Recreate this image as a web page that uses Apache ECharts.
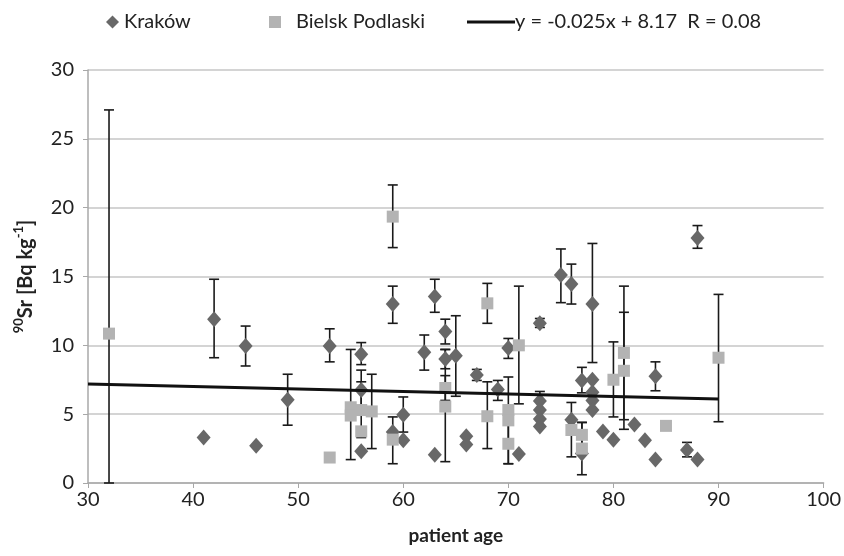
<!DOCTYPE html>
<html>
<head>
<meta charset="utf-8">
<script src="https://cdn.jsdelivr.net/npm/echarts@6/dist/echarts.min.js"></script>
<style>
  html, body { margin: 0; padding: 0; background: #fff; }
  #main { width: 844px; height: 556px; }
</style>
</head>
<body>
<div id="main"></div>
<script>
// Kraków: wiek, 90Sr, dolny i górny koniec słupka błędu (null = brak)
const krakowAge  = [41, 42, 45, 46, 49, 53, 56, 56, 56, 59, 59, 60, 60, 62, 63, 63, 64, 64, 65, 66, 66, 67, 69, 70, 71, 73, 73, 73, 73, 73, 75, 76, 76, 77, 77, 78, 78, 78, 78, 78, 79, 80, 82, 83, 84, 84, 87, 88, 88]
const krakowSr   = [3.3, 11.9, 9.95, 2.7, 6.05, 9.95, 9.35, 6.75, 2.3, 13.0, 3.7, 4.95, 3.1, 9.5, 13.55, 2.05, 11.0, 9.0, 9.25, 3.4, 2.8, 7.85, 6.8, 9.8, 2.1, 11.6, 5.95, 5.3, 4.65, 4.1, 15.1, 14.45, 4.6, 7.45, 2.15, 13.0, 7.5, 6.6, 6.0, 5.3, 3.75, 3.15, 4.25, 3.1, 7.75, 1.7, 2.4, 17.8, 1.7]
const krakowLow  = [null, 9.1, 8.5, null, 4.2, 8.8, 8.6, 5.3, null, 11.6, null, 3.7, null, 8.2, 12.4, null, 10.1, 8.3, 6.3, null, null, 7.45, 6.0, 9.05, null, 11.3, 5.3, null, null, null, 13.1, 13.0, null, 6.55, null, 8.75, null, null, null, null, null, null, null, null, 6.7, null, 1.9, 17.05, null]
const krakowHigh = [null, 14.8, 11.4, null, 7.9, 11.2, 10.2, 8.2, null, 14.3, null, 6.25, null, 10.75, 14.8, null, 11.9, 9.7, 12.15, null, null, 8.25, 7.45, 10.5, null, 11.95, 6.65, null, null, null, 17.0, 15.9, null, 8.4, null, 17.4, null, null, null, null, null, null, null, null, 8.8, null, 2.95, 18.7, null]

// Bielsk Podlaski
const bielskAge  = [32, 53, 55, 55, 56, 56, 57, 59, 59, 64, 64, 68, 68, 70, 70, 70, 71, 76, 77, 77, 80, 81, 81, 85, 90]
const bielskSr   = [10.85, 1.85, 5.5, 4.9, 5.3, 3.75, 5.2, 19.35, 3.15, 6.9, 5.55, 13.05, 4.85, 5.3, 4.55, 2.85, 10.0, 3.85, 3.5, 2.5, 7.5, 9.45, 8.15, 4.15, 9.1]
const bielskLow  = [0, null, 1.7, null, 3.3, null, 2.5, 17.1, 1.4, 6.0, 1.55, 11.6, 2.5, null, 1.4, 1.4, 5.75, 1.9, 2.6, 0.6, 4.8, 4.6, 3.9, null, 4.45]
const bielskHigh = [27.1, null, 9.7, null, 7.35, null, 7.9, 21.65, 4.8, 7.8, 9.7, 14.5, 7.35, null, 7.7, 4.3, 14.3, 5.85, 4.4, 4.4, 10.25, 14.3, 12.4, null, 13.7]

// linia trendu (końce)
const trendAge = [30, 90]
const trendSr  = [7.2, 6.1]
const trendName = 'y = -0.025x + 8.17  R = 0.08'

const font = 'Lato'
const pts = (xs, ys) => xs.map((x, i) => [x, ys[i]])
const bars = (xs, lo, hi) => xs.map((x, i) => [x, lo[i], hi[i]]).filter(d => d[1] != null)

function errorBar (params, api) {
  const lo = api.coord([api.value(0), api.value(1)])
  const hi = api.coord([api.value(0), api.value(2)])
  const w = 5
  const st = { stroke: '#1a1a1a', lineWidth: 1.6 }
  return {
    type: 'group',
    children: [
      { type: 'line', shape: { x1: lo[0], y1: lo[1], x2: hi[0], y2: hi[1] }, style: st },
      { type: 'line', shape: { x1: lo[0] - w, y1: lo[1], x2: lo[0] + w, y2: lo[1] }, style: st },
      { type: 'line', shape: { x1: hi[0] - w, y1: hi[1], x2: hi[0] + w, y2: hi[1] }, style: st }
    ]
  }
}

const legendText = { fontSize: 20, color: '#222', fontFamily: font }

const myChart = echarts.init(document.getElementById('main'))
const option = {
  animation: false,
  textStyle: { fontFamily: font },
  legend: [
    {
      left: 101,
      top: 7,
      itemWidth: 13,
      itemHeight: 13,
      textStyle: legendText,
      data: [{ name: 'Kraków', icon: 'diamond' }]
    },
    {
      left: 264,
      top: 7,
      itemWidth: 12,
      itemHeight: 12,
      textStyle: Object.assign({}, legendText, { padding: [0, 0, 0, 10] }),
      data: [{ name: 'Bielsk Podlaski', icon: 'rect' }]
    },
    {
      left: 462,
      top: 7,
      itemWidth: 48,
      itemHeight: 3,
      textStyle: Object.assign({}, legendText, { padding: [0, 0, 0, -5] }),
      data: [{ name: trendName, icon: 'rect' }]
    }
  ],
  grid: { left: 88, right: 18, top: 70, bottom: 73 },
  xAxis: {
    type: 'value',
    min: 30,
    max: 100,
    interval: 10,
    name: 'patient age',
    nameLocation: 'middle',
    nameGap: 43,
    nameTextStyle: { fontSize: 19, fontWeight: 'bold', color: '#222', fontFamily: font },
    axisLine: { lineStyle: { color: '#a8a8a8', width: 1.5 } },
    axisTick: { show: true, inside: false, length: 5, lineStyle: { color: '#a8a8a8' } },
    axisLabel: { fontSize: 20, color: '#222', margin: 7, fontFamily: font },
    splitLine: { show: false }
  },
  yAxis: {
    type: 'value',
    min: 0,
    max: 30,
    interval: 5,
    name: '{sup|90}{b|Sr [Bq kg}{sup|-1}{b|]}',
    nameLocation: 'middle',
    nameGap: 52,
    nameTextStyle: {
      color: '#222',
      fontFamily: font,
      rich: {
        b: { fontSize: 20, fontWeight: 'bold', color: '#222', fontFamily: font, lineHeight: 24, verticalAlign: 'bottom' },
        sup: { fontSize: 13, fontWeight: 'bold', color: '#222', fontFamily: font, lineHeight: 14, verticalAlign: 'top' }
      }
    },
    axisLine: { show: true, lineStyle: { color: '#a8a8a8', width: 1.5 } },
    axisTick: { show: true, inside: false, length: 5, lineStyle: { color: '#a8a8a8' } },
    axisLabel: { fontSize: 20, color: '#222', margin: 14, fontFamily: font },
    splitLine: { lineStyle: { color: '#c6c6c6', width: 1.5 } }
  },
  series: [
    {
      name: 'Kraków-err',
      type: 'custom',
      renderItem: errorBar,
      data: bars(krakowAge, krakowLow, krakowHigh),
      encode: { x: 0, y: [1, 2] },
      z: 2,
      silent: true
    },
    {
      name: 'Bielsk-err',
      type: 'custom',
      renderItem: errorBar,
      data: bars(bielskAge, bielskLow, bielskHigh),
      encode: { x: 0, y: [1, 2] },
      z: 2,
      silent: true
    },
    {
      name: 'Kraków',
      type: 'scatter',
      symbol: 'diamond',
      symbolSize: [14, 16],
      itemStyle: { color: '#686868', opacity: 1 },
      data: pts(krakowAge, krakowSr),
      z: 3
    },
    {
      name: 'Bielsk Podlaski',
      type: 'scatter',
      symbol: 'rect',
      symbolSize: 12,
      itemStyle: { color: '#b3b3b3', opacity: 1 },
      data: pts(bielskAge, bielskSr),
      z: 3
    },
    {
      name: trendName,
      type: 'line',
      showSymbol: false,
      symbol: 'none',
      lineStyle: { color: '#111', width: 3 },
      itemStyle: { color: '#111' },
      data: pts(trendAge, trendSr),
      z: 4
    }
  ]
}
myChart.setOption(option)
</script>
</body>
</html>
